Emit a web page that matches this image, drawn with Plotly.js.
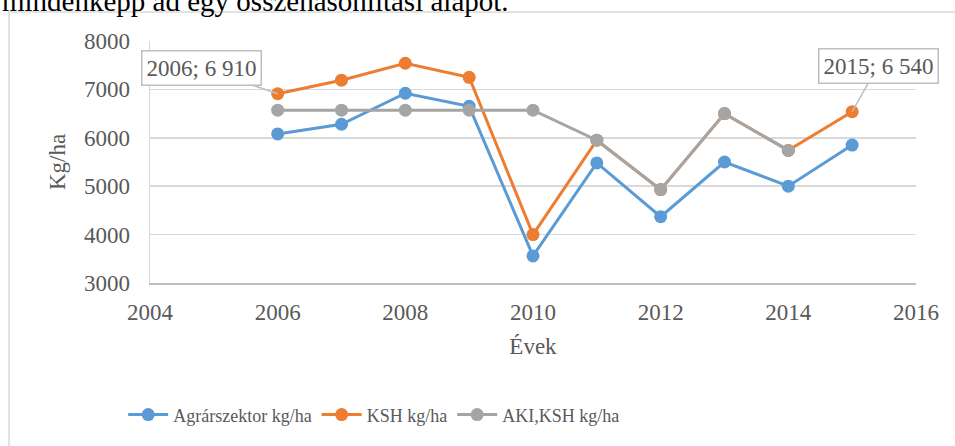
<!DOCTYPE html>
<html>
<head>
<meta charset="utf-8">
<script src="https://cdn.plot.ly/plotly-3.0.1.min.js"></script>
<style>
  body { margin: 0; background: #fff; }
  #chart { width: 955px; height: 446px; }
</style>
</head>
<body>
<div id="chart"></div>
<script>
// adatok
const years = [2006, 2007, 2008, 2009, 2010, 2011, 2012, 2013, 2014, 2015];
const agrarszektor = [6080, 6280, 6920, 6650, 3560, 5480, 4370, 5500, 5000, 5850];
const ksh = [6910, 7190, 7540, 7250, 4000, 5950, 4930, 6500, 5740, 6540];
const akiKsh = [6570, 6570, 6570, 6570, 6570, 5950, 4930, 6500, 5740, null];
const seriesNames = ["Agrárszektor kg/ha", "KSH kg/ha", "AKI,KSH kg/ha"];
const seriesColors = ["#5b9bd5", "#ed7d31", "#a5a5a5"];

const font = "Liberation Serif";
const txt = "#595959";

function makeTrace(values, i) {
  return {
    x: years,
    y: values,
    type: "scatter",
    mode: "lines+markers",
    name: seriesNames[i],
    connectgaps: false,
    line: { color: seriesColors[i], width: 3 },
    marker: { color: seriesColors[i], size: 13 }
  };
}

const data = [
  makeTrace(agrarszektor, 0),
  makeTrace(ksh, 1),
  makeTrace(akiKsh, 2)
];

const layout = {
  width: 955,
  height: 446,
  margin: { l: 150, r: 39, t: 41, b: 163 },
  paper_bgcolor: "#fff",
  plot_bgcolor: "#fff",
  font: { family: font, size: 23, color: txt },
  showlegend: true,
  legend: {
    orientation: "h",
    x: -0.035,
    xanchor: "left",
    y: -0.545,
    yanchor: "middle",
    font: { family: font, size: 18, color: txt },
    itemwidth: 40,
    tracegroupgap: 0
  },
  xaxis: {
    range: [2004, 2016],
    dtick: 2,
    tick0: 2004,
    showgrid: false,
    zeroline: false,
    showline: true,
    linecolor: "#bfbfbf",
    linewidth: 1.5,
    ticks: "",
    ticklabelstandoff: 8,
    tickfont: { family: font, size: 23, color: txt },
    title: { text: "Évek", font: { family: font, size: 23, color: txt }, standoff: 14 }
  },
  yaxis: {
    range: [3000, 8000],
    dtick: 1000,
    showgrid: true,
    gridcolor: "#d9d9d9",
    gridwidth: 1.5,
    zeroline: false,
    showline: true,
    linecolor: "#d9d9d9",
    linewidth: 1.5,
    ticks: "",
    ticklabelstandoff: 14,
    tickfont: { family: font, size: 23, color: txt },
    title: { text: "Kg/ha", font: { family: font, size: 23, color: txt }, standoff: 12 }
  },
  shapes: [
    {
      type: "rect",
      xref: "paper", yref: "paper",
      x0: -0.184, x1: 1.08, y0: -0.72, y1: 1.12,
      line: { color: "#d9d9d9", width: 1.5 },
      fillcolor: "rgba(0,0,0,0)",
      layer: "below"
    }
  ],
  annotations: [
    {
      xref: "paper", yref: "paper",
      x: -0.196, y: 1.165,
      xanchor: "left", yanchor: "middle",
      text: "mindenképp ad egy összehasonlítási alapot.",
      showarrow: false,
      font: { family: font, size: 29, color: "#000" }
    },
    {
      x: 2006, y: ksh[0],
      text: "2006; 6 910",
      showarrow: true,
      arrowhead: 0,
      arrowwidth: 1.5,
      arrowcolor: "#bfbfbf",
      ax: -76, ay: -26,
      bgcolor: "#fff",
      bordercolor: "#bfbfbf",
      borderwidth: 1.5,
      borderpad: 4,
      font: { family: font, size: 23, color: txt }
    },
    {
      x: 2015, y: ksh[9],
      text: "2015; 6 540",
      showarrow: true,
      arrowhead: 0,
      arrowwidth: 1.5,
      arrowcolor: "#bfbfbf",
      ax: 26, ay: -46,
      bgcolor: "#fff",
      bordercolor: "#bfbfbf",
      borderwidth: 1.5,
      borderpad: 4,
      font: { family: font, size: 23, color: txt }
    }
  ]
};

Plotly.newPlot("chart", data, layout, { displayModeBar: false, staticPlot: true });
</script>
</body>
</html>
